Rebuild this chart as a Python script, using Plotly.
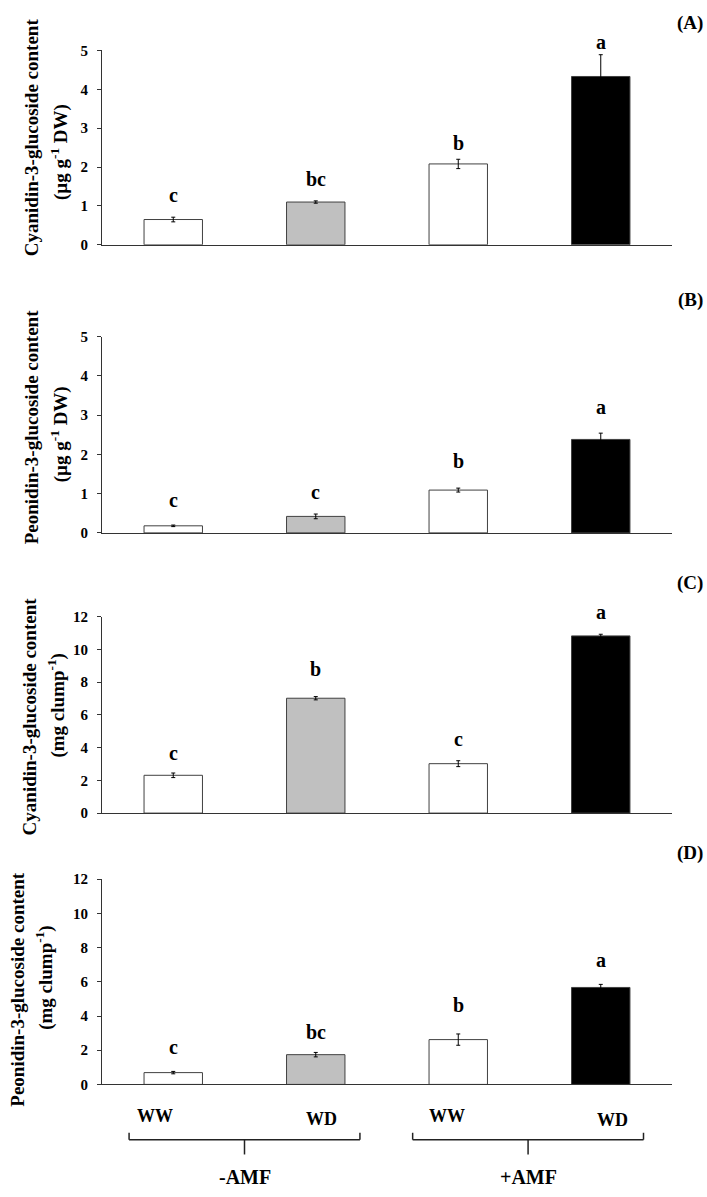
import plotly.graph_objects as go

W, H = 707, 1197

categories = ["-AMF WW", "-AMF WD", "+AMF WW", "+AMF WD"]
bar_colors = ["#ffffff", "#c0c0c0", "#ffffff", "#000000"]

vals_a = [0.65, 1.10, 2.08, 4.33]
err_a = [0.06, 0.03, 0.12, 0.56]
let_a = ["c", "bc", "b", "a"]
lety_a = [1.27, 1.69, 2.63, 5.21]

vals_b = [0.18, 0.42, 1.09, 2.38]
err_b = [0.02, 0.06, 0.05, 0.16]
let_b = ["c", "c", "b", "a"]
lety_b = [0.85, 1.05, 1.84, 3.20]

vals_c = [2.31, 7.02, 3.02, 10.83]
err_c = [0.14, 0.10, 0.18, 0.10]
let_c = ["c", "b", "c", "a"]
lety_c = [3.66, 8.78, 4.52, 12.30]

vals_d = [0.69, 1.74, 2.62, 5.67]
err_d = [0.07, 0.13, 0.33, 0.18]
let_d = ["c", "bc", "b", "a"]
lety_d = [2.16, 3.09, 4.67, 7.27]

panel_tags = ["(A)", "(B)", "(C)", "(D)"]
title_line1 = ["Cyanidin-3-glucoside content", "Peonidin-3-glucoside content",
               "Cyanidin-3-glucoside content", "Peonidin-3-glucoside content"]
title_line2 = ["(µg g<sup>-1</sup> DW)", "(µg g<sup>-1</sup> DW)",
               "(mg clump<sup>-1</sup>)", "(mg clump<sup>-1</sup>)"]
y_ranges = [[0, 5], [0, 5], [0, 12], [0, 12]]
y_dticks = [1, 1, 2, 2]
sub_labels = ["WW", "WD", "WW", "WD"]
group_labels = ["-AMF", "+AMF"]

# layout (pixel positions)
x_left, x_right = 102, 672
panels_px = [(43, 240), (333, 532), (617, 816), (883, 1091)]
tag_y = [15, 296, 583, 856]
t1_x = [31, 31, 29, 18]
t2_x = [59, 59, 57, 45]
t1_y = [131, 425, 718, 995]
t2_y = [146, 432, 707, 983]

FONT = "Liberation Serif"
AX = "#333333"

def px_x(p):
    return p / W

def px_y(p):
    return 1 - p / H

fig = go.Figure()
vals = [vals_a, vals_b, vals_c, vals_d]
errs = [err_a, err_b, err_c, err_d]
lets = [let_a, let_b, let_c, let_d]
letys = [lety_a, lety_b, lety_c, lety_d]

xpos = list(range(len(categories)))
annotations = []
shapes = []
for i in range(4):
    xa = "x" if i == 0 else f"x{i+1}"
    ya = "y" if i == 0 else f"y{i+1}"
    fig.add_trace(go.Bar(
        x=xpos, y=vals[i], xaxis=xa, yaxis=ya, width=0.41,
        marker=dict(color=bar_colors, line=dict(color="#404040", width=1)),
        error_y=dict(type="data", array=errs[i], symmetric=True,
                     color="#000000", thickness=1, width=2),
        showlegend=False, hoverinfo="skip"))
    top, bot = panels_px[i]
    d0, d1 = px_y(bot), px_y(top)
    xkey = "xaxis" if i == 0 else f"xaxis{i+1}"
    ykey = "yaxis" if i == 0 else f"yaxis{i+1}"
    fig.update_layout(**{
        xkey: dict(domain=[px_x(x_left), px_x(x_right)], range=[-0.5, 3.5],
                   anchor=ya, showline=True, linecolor=AX, linewidth=1,
                   showticklabels=False, ticks="", showgrid=False,
                   zeroline=False, fixedrange=True),
        ykey: dict(domain=[d0, d1], range=y_ranges[i],
                   dtick=y_dticks[i], anchor=xa, showline=True, linecolor=AX,
                   linewidth=1, ticks="outside", ticklen=4, tickcolor=AX,
                   showgrid=False, zeroline=False, fixedrange=True,
                   ticklabelstandoff=6,
                   tickfont=dict(family=FONT, size=15, color="#000", weight="bold")),
    })
    r0, r1 = y_ranges[i]
    for j in range(4):
        yp = d0 + (letys[i][j] - r0) / (r1 - r0) * (d1 - d0)
        annotations.append(dict(x=xpos[j], y=yp, xref=xa, yref="paper",
                                text=lets[i][j], showarrow=False,
                                font=dict(family=FONT, size=20, color="#000", weight="bold"),
                                yanchor="middle"))
    annotations.append(dict(x=px_x(690), y=px_y(tag_y[i]), xref="paper", yref="paper",
                            text=panel_tags[i], showarrow=False,
                            font=dict(family=FONT, size=19, color="#000", weight="bold"),
                            xanchor="center", yanchor="middle"))
    annotations.append(dict(x=px_x(t1_x[i]), y=px_y(t1_y[i]), xref="paper", yref="paper",
                            text=title_line1[i], showarrow=False, textangle=-90,
                            font=dict(family=FONT, size=19, color="#000", weight="bold"),
                            xanchor="center", yanchor="middle"))
    annotations.append(dict(x=px_x(t2_x[i]), y=px_y(t2_y[i]), xref="paper", yref="paper",
                            text=title_line2[i], showarrow=False, textangle=-90,
                            font=dict(family=FONT, size=19, color="#000", weight="bold"),
                            xanchor="center", yanchor="middle"))

# bottom category labels and brackets (in x4 data coordinates)
sub_x = [-0.13, 1.04, 1.92, 3.08]
sub_y = [1123, 1126, 1123, 1127]
for k in range(4):
    annotations.append(dict(x=sub_x[k], y=px_y(sub_y[k]), xref="x4", yref="paper",
                            text=sub_labels[k], showarrow=False,
                            font=dict(family=FONT, size=18, color="#000", weight="bold"),
                            xanchor="center", yanchor="middle"))
group_l = [-0.31, 1.68]
group_r = [1.31, 3.30]
group_c = [0.50, 2.49]
for g in range(2):
    yl = px_y(1147)
    yt = px_y(1140)
    ys = px_y(1162)
    for (x0, y0, x1, y1) in [(group_l[g], yl, group_r[g], yl),
                              (group_l[g], yt, group_l[g], yl),
                              (group_r[g], yt, group_r[g], yl),
                              (group_c[g], yl, group_c[g], ys)]:
        shapes.append(dict(type="line", xref="x4", yref="paper", x0=x0, y0=y0,
                           x1=x1, y1=y1, line=dict(color="#222", width=1.5)))
    annotations.append(dict(x=group_c[g], y=px_y(1185), xref="x4", yref="paper",
                            text=group_labels[g], showarrow=False,
                            font=dict(family=FONT, size=20, color="#000", weight="bold"),
                            xanchor="center", yanchor="middle"))

fig.update_layout(width=W, height=H, margin=dict(l=0, r=0, t=0, b=0),
                  paper_bgcolor="white", plot_bgcolor="white",
                  annotations=annotations, shapes=shapes, bargap=0.59,
                  font=dict(family=FONT, color="#000"))

fig.write_html("out.html", config={"displayModeBar": False, "staticPlot": True},
               post_script="document.body.style.margin='0';document.body.style.overflow='hidden';")
